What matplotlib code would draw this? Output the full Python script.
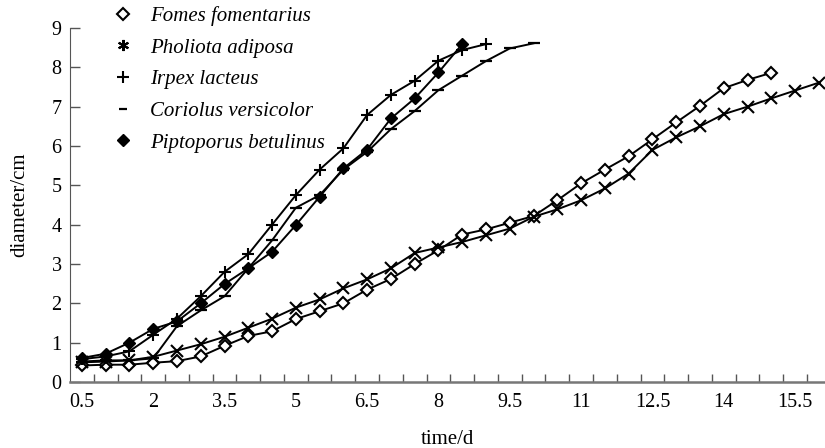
import numpy as np
import matplotlib
matplotlib.use("Agg")
import matplotlib.pyplot as plt
from matplotlib.lines import Line2D

plt.rcParams['font.family'] = ['Liberation Serif', 'DejaVu Serif']

# growth data, one point every half day
fomes_days = np.arange(0.5, 15.01, 0.5)
fomes = [0.42, 0.44, 0.44, 0.49, 0.53, 0.65, 0.92, 1.17, 1.29, 1.60,
         1.80, 2.00, 2.35, 2.62, 3.00, 3.35, 3.75, 3.88, 4.05, 4.22,
         4.62, 5.05, 5.40, 5.74, 6.17, 6.60, 7.02, 7.47, 7.68, 7.86]

pholiota_days = np.arange(0.5, 16.01, 0.5)
pholiota = [0.50, 0.52, 0.55, 0.64, 0.80, 0.96, 1.15, 1.38, 1.61, 1.89,
            2.10, 2.38, 2.61, 2.89, 3.28, 3.42, 3.56, 3.73, 3.90, 4.20,
            4.39, 4.62, 4.92, 5.30, 5.90, 6.22, 6.50, 6.81, 7.00, 7.21,
            7.41, 7.61]

irpex_days = np.arange(0.5, 9.01, 0.5)
irpex = [0.58, 0.65, 0.78, 1.20, 1.61, 2.18, 2.80, 3.25, 4.00, 4.75,
         5.40, 5.94, 6.79, 7.30, 7.66, 8.17, 8.44, 8.59]

coriolus_days = np.arange(0.5, 10.01, 0.5)
coriolus = [0.52, 0.55, 0.55, 0.60, 1.42, 1.82, 2.18, 2.89, 3.60, 4.43,
            4.75, 5.40, 5.85, 6.43, 6.89, 7.42, 7.79, 8.16, 8.48, 8.61]

piptoporus_days = np.arange(0.5, 8.51, 0.5)
piptoporus = [0.61, 0.72, 1.00, 1.35, 1.54, 2.00, 2.49, 2.89, 3.31, 3.99,
              4.71, 5.43, 5.91, 6.70, 7.21, 7.87, 8.59]

names = ['Fomes fomentarius', 'Pholiota adiposa', 'Irpex lacteus',
         'Coriolus versicolor', 'Piptoporus betulinus']
xtick_labels = ['0.5', '2', '3.5', '5', '6.5', '8', '9.5', '11', '12.5', '14', '15.5']

fig = plt.figure(figsize=(8.25, 4.48), dpi=100)
ax = fig.add_axes([70 / 825, 66 / 448, 755 / 825, 354 / 448])

lw = 1.4
ax.plot(fomes_days, fomes, color='black', lw=lw, marker='D', ms=6.5,
        mfc='white', mec='black', mew=1.5, zorder=3)
ax.plot(pholiota_days, pholiota, color='black', lw=lw, marker='x', ms=8,
        mew=1.5, zorder=3)
ax.plot(irpex_days, irpex, color='black', lw=lw, marker='+', ms=8,
        mew=1.5, zorder=3)
ax.plot(coriolus_days, coriolus, color='black', lw=lw, marker='_', ms=8,
        mew=1.6, zorder=3)
ax.plot(piptoporus_days, piptoporus, color='black', lw=lw, marker='D', ms=6.5,
        mfc='black', mec='black', zorder=3)

ax.set_xlim(0.25, 16.13)
ax.set_ylim(0, 9)

ax.set_xticks([float(t) for t in xtick_labels])
ax.set_xticklabels(xtick_labels)
ax.set_xticks(np.arange(0.75, 16.0, 0.5), minor=True)
ax.tick_params(axis='x', which='major', length=0, pad=8, labelsize=14.5)
ax.tick_params(axis='x', which='minor', direction='in', length=6, width=1, color='#555555')
ax.set_yticks(range(0, 10))
ax.tick_params(axis='y', direction='in', length=7, width=1, color='#555555', pad=6, labelsize=14.5)

for s in ['top', 'right']:
    ax.spines[s].set_visible(False)
ax.spines['left'].set_color('#555555')
ax.spines['bottom'].set_color('#777777')
ax.spines['bottom'].set_linewidth(1.8)

ax.set_xlabel('time/d', fontsize=15, labelpad=13)
ax.set_ylabel('diameter/cm', fontsize=15, labelpad=16)

handles = [
    Line2D([], [], ls='none', marker='D', ms=6, mfc='white', mec='black', mew=1.5),
    Line2D([], [], ls='none', marker=(6, 2, 0), ms=8, color='black', mew=1.5),
    Line2D([], [], ls='none', marker='+', ms=8, color='black', mew=1.5),
    Line2D([], [], ls='none', marker='_', ms=6, color='black', mew=1.6),
    Line2D([], [], ls='none', marker='D', ms=6.5, color='black'),
]
fig.legend(handles, names, loc='upper left', bbox_to_anchor=(113 / 825, 1 - 6 / 448),
           frameon=False, borderpad=0, borderaxespad=0, handlelength=1.0,
           handletextpad=0.8, labelspacing=0.58,
           prop={'family': 'Liberation Serif', 'style': 'italic', 'size': 15})

fig.savefig('out.png', dpi=100)
